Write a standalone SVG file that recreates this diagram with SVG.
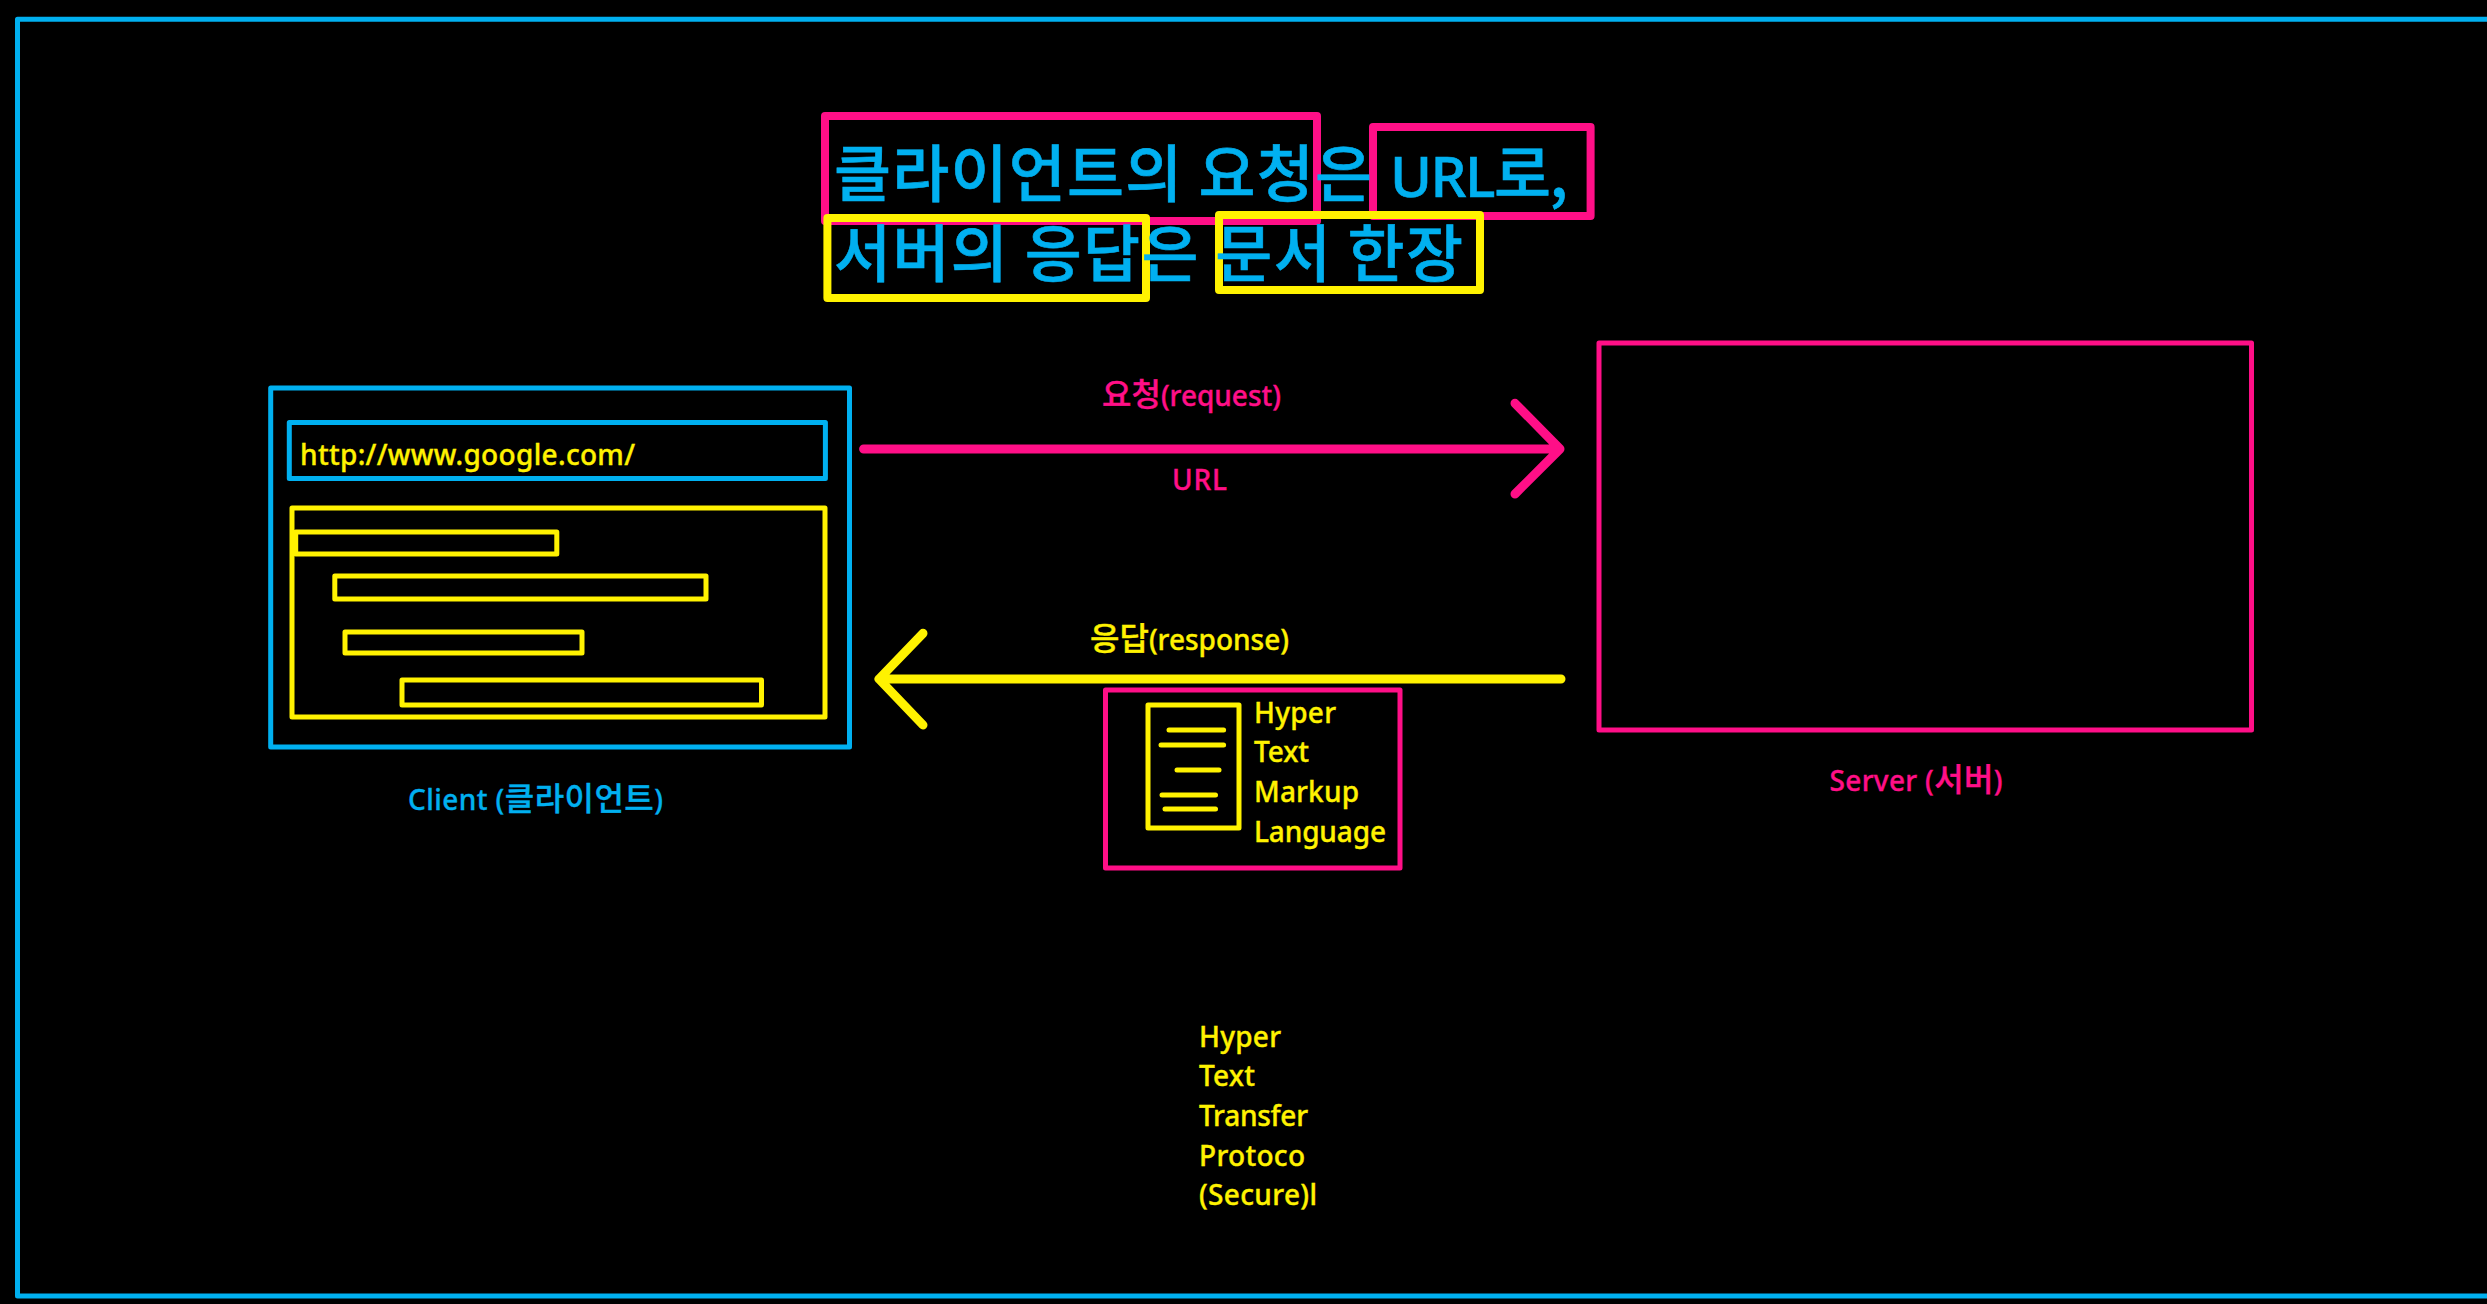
<svg xmlns="http://www.w3.org/2000/svg" width="2487" height="1304" viewBox="0 0 2487 1304">
<style>
text{font-family:"Noto Sans","Noto Sans CJK KR",sans-serif;font-size:28px;font-weight:500;stroke-width:.35px}
.k{font-size:32px;font-family:"Noto Sans CJK KR",sans-serif;font-weight:500}
.b{fill:none;stroke:#00B0F0}
.p{fill:none;stroke:#FF0F87}
.y{fill:none;stroke:#FFF200}
.t{fill:#00B0F0;stroke:#00B0F0}.tp{fill:#FF0F87;stroke:#FF0F87}.ty{fill:#FFF200;stroke:#FFF200}
.title{font-family:"Noto Sans CJK KR",sans-serif;font-size:62px;font-weight:500;stroke-width:.6px}
.lat{font-family:"Noto Sans",sans-serif;font-size:57px;font-weight:500}
rect{stroke-linejoin:round}
.s9{stroke-width:9}.s8{stroke-width:8}.s5{stroke-width:5}
.c path,.doc line{stroke-linecap:round;stroke-linejoin:round}
</style>
<rect width="2487" height="1304" fill="#000"/>
<rect id="frame" class="b s5" x="17.5" y="19.3" width="2520" height="1276.7"/>
<g id="title">
<rect class="p s8" x="825" y="116" width="492" height="105"/>
<rect class="p s8" x="1373" y="127" width="217.6" height="89"/>
<rect class="y s8" x="827.4" y="218" width="318.6" height="80"/>
<rect class="y s8" x="1219" y="215" width="261" height="75"/>
<text class="t title" x="834" y="197" textLength="538">클라이언트의 요청은</text>
<text class="t title" x="1390" y="197" textLength="178"><tspan class="lat">URL</tspan>로,</text>
<text class="t title" x="834" y="277" textLength="629">서버의 응답은 문서 한장</text>
</g>
<g id="client">
<rect class="b s5" x="270.7" y="388" width="578.8" height="359"/>
<rect class="b s5" x="289.3" y="422.5" width="536.1" height="56"/>
<text class="ty" x="300" y="465" textLength="335">http://www.google.com/</text>
<rect class="y s5" x="292" y="508" width="533" height="209"/>
<rect class="y s5" x="295.7" y="532" width="261.1" height="22"/>
<rect class="y s5" x="334.8" y="576" width="371.2" height="23"/>
<rect class="y s5" x="345" y="632" width="237" height="21"/>
<rect class="y s5" x="402" y="680" width="359.5" height="25"/>
<text class="t" x="408" y="810" textLength="255">Client (<tspan class="k">클라이언트</tspan>)</text>
</g>
<g id="server">
<rect class="p s5" x="1599" y="343" width="652.5" height="387"/>
<text class="tp" x="1829.5" y="791" textLength="173">Server (<tspan class="k">서버</tspan>)</text>
</g>
<g id="connectors" class="c">
<path class="p s9" d="M863.6 449H1560M1515 403.3L1560 449L1515 494"/>
<path class="y s9" d="M1561 679H879M923 633.3L879 679L923 725"/>
</g>
<g id="request-label">
<text class="tp" x="1102" y="406" textLength="179"><tspan class="k">요청</tspan>(request)</text>
<text class="tp" x="1172" y="490" textLength="55">URL</text>
</g>
<g id="response-label">
<text class="ty" x="1090" y="650" textLength="199"><tspan class="k">응답</tspan>(response)</text>
</g>
<g id="html">
<rect class="p s5" x="1105.5" y="690" width="294.5" height="178"/>
<g class="doc">
<rect class="y s5" x="1148" y="705" width="91" height="123"/>
<line class="y s5" x1="1169" y1="730" x2="1223.6" y2="730"/>
<line class="y s5" x1="1161" y1="745" x2="1223.6" y2="745"/>
<line class="y s5" x1="1177" y1="770" x2="1219" y2="770"/>
<line class="y s5" x1="1162" y1="795" x2="1215.5" y2="795"/>
<line class="y s5" x1="1165" y1="809" x2="1215.5" y2="809"/>
</g>
<text class="ty" x="1254" y="723" textLength="82">Hyper</text>
<text class="ty" x="1254" y="762" textLength="55">Text</text>
<text class="ty" x="1254" y="802" textLength="105">Markup</text>
<text class="ty" x="1254" y="842" textLength="132">Language</text>
</g>
<g id="http">
<text class="ty" x="1199" y="1047" textLength="82">Hyper</text>
<text class="ty" x="1199" y="1086" textLength="56">Text</text>
<text class="ty" x="1199" y="1126" textLength="109">Transfer</text>
<text class="ty" x="1199" y="1166" textLength="106">Protoco</text>
<text class="ty" x="1199" y="1205" textLength="118">(Secure)l</text>
</g>
</svg>
